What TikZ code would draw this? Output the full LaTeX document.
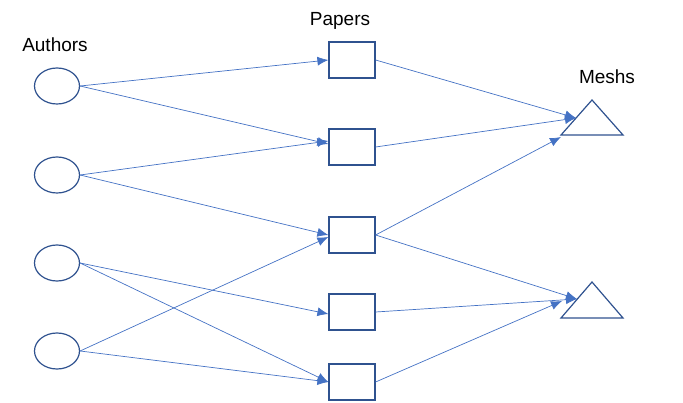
\documentclass[tikz,border=0pt]{standalone}
\usepackage{fontspec}
\setmainfont{Liberation Sans}
\usetikzlibrary{arrows.meta,shapes.geometric}
\begin{document}
\begin{tikzpicture}[x=1pt,y=-1pt,
  auth/.style={draw=shapeblue,line width=1.2pt,ellipse,minimum width=45pt,minimum height=36pt,inner sep=0pt},
  paper/.style={draw=shapeblue,line width=1.2pt,rectangle,minimum width=46pt,minimum height=36pt,inner sep=0pt},
  tri/.style={draw=shapeblue,line width=1.2pt},
  lab/.style={font=\fontsize{19}{22}\selectfont},
  edge/.style={draw=edgeblue,line width=0.7pt,-{Latex[length=11pt,width=9pt]}}]
\definecolor{shapeblue}{HTML}{2F528F}
\definecolor{edgeblue}{HTML}{4472C4}
\useasboundingbox (0,0) rectangle (683,403);
\node[lab] (la) at (55,45) {Authors};
\node[lab] (lp) at (340,21) {Papers};
\node[lab] (lm) at (607,77) {Meshs};
\node[auth] (a1) at (57,86) {};
\node[auth] (a2) at (57,175) {};
\node[auth] (a3) at (57,263) {};
\node[auth] (a4) at (57,351) {};
\node[paper] (p1) at (352,60) {};
\node[paper] (p2) at (352,147) {};
\node[paper] (p3) at (352,235) {};
\node[paper] (p4) at (352,312) {};
\node[paper] (p5) at (352,382) {};
\draw[tri] (592,100) -- (623,135) -- (561,135) -- cycle;
\draw[tri] (592,282) -- (623,318) -- (561,318) -- cycle;
\coordinate (m1a) at (576,118);
\coordinate (m1b) at (561,137);
\coordinate (m2a) at (577,299);
\coordinate (m2b) at (562,301);
\draw[edge] (a1.east) -- (p1.west);
\draw[edge] (a1.east) -- ([yshift=3pt]p2.west);
\draw[edge] (a2.east) -- ([yshift=6pt]p2.west);
\draw[edge] (a2.east) -- (p3.west);
\draw[edge] (a3.east) -- ([yshift=-2pt]p4.west);
\draw[edge] (a3.east) -- (p5.west);
\draw[edge] (a4.east) -- ([yshift=-2pt]p3.west);
\draw[edge] (a4.east) -- (p5.west);
\draw[edge] (p1.east) -- (m1a);
\draw[edge] (p2.east) -- (m1a);
\draw[edge] (p3.east) -- (m1b);
\draw[edge] (p3.east) -- (m2a);
\draw[edge] (p4.east) -- (m2a);
\draw[edge] (p5.east) -- (m2b);
\end{tikzpicture}
\end{document}
